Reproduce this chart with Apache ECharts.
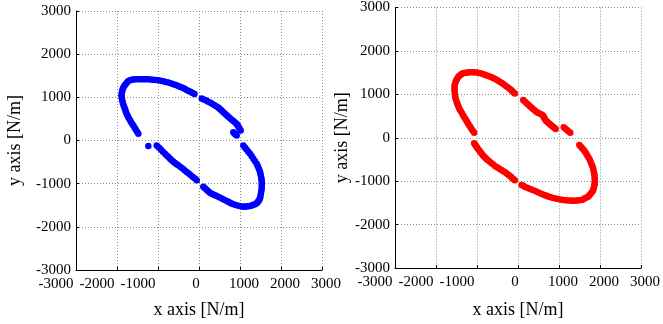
<!DOCTYPE html>
<html>
<head>
<meta charset="utf-8">
<script src="https://cdn.jsdelivr.net/npm/echarts@6/dist/echarts.min.js"></script>
<style>
  html, body { margin: 0; padding: 0; background: #fff; }
  #chart { width: 663px; height: 324px; }
</style>
</head>
<body>
<div id="chart"></div>
<script>
// axis range shared by both panels
var axisMin = -3000;
var axisMax = 3000;
var axisStep = 1000;
var xTitle = 'x axis [N/m]';
var yTitle = 'y axis [N/m]';

// left panel (blue), walking round the ellipse
var bluePoints = [
  [-1480, 154], [-1510, 200], [-1540, 250], [-1570, 295], [-1602, 345], [-1635, 392],
  [-1665, 440], [-1695, 490], [-1724, 537], [-1748, 585], [-1770, 632], [-1788, 680],
  [-1805, 729], [-1825, 778], [-1843, 825], [-1858, 872], [-1870, 920], [-1880, 960],
  [-1884, 1000], [-1887, 1040], [-1886, 1074], [-1880, 1112], [-1872, 1150], [-1860, 1190],
  [-1846, 1227], [-1820, 1268], [-1790, 1305], [-1758, 1345], [-1724, 1379], [-1680, 1395],
  [-1640, 1405], [-1600, 1412], [-1561, 1418], [-1500, 1420], [-1439, 1420], [-1390, 1420],
  [-1340, 1420], [-1290, 1420], [-1236, 1418], [-1175, 1413], [-1115, 1408], [-1055, 1402],
  [-993, 1395], [-930, 1383], [-870, 1370], [-810, 1356], [-749, 1342], [-690, 1324],
  [-627, 1305], [-565, 1285], [-505, 1264], [-450, 1242], [-400, 1220], [-350, 1196],
  [-300, 1172], [-250, 1148], [-200, 1125], [-155, 1102], [-110, 1080],
  [66, 975], [115, 952], [165, 930], [215, 906], [268, 882], [320, 854], [370, 825],
  [420, 796], [471, 767], [500, 738], [532, 710], [562, 682], [593, 653], [635, 620],
  [675, 585], [715, 550], [756, 515], [797, 483], [838, 450], [880, 417], [919, 384],
  [945, 345], [970, 305], [995, 268], [1017, 230],
  [837, 193], [858, 170], [880, 150], [900, 132], [919, 115],
  [1081, -115], [1120, -162], [1160, -210], [1202, -258], [1244, -306], [1285, -362],
  [1325, -420], [1366, -478], [1407, -536], [1430, -583], [1450, -630], [1470, -678],
  [1488, -727], [1500, -776], [1510, -825], [1520, -872], [1529, -920], [1531, -968],
  [1532, -1015], [1531, -1062], [1529, -1110], [1520, -1168], [1510, -1225], [1500, -1283],
  [1488, -1340], [1470, -1372], [1450, -1400], [1430, -1430], [1407, -1455], [1366, -1474],
  [1325, -1490], [1285, -1505], [1244, -1517], [1200, -1524], [1160, -1528], [1120, -1531],
  [1081, -1532], [1020, -1521], [960, -1510], [898, -1494], [837, -1478], [796, -1459],
  [756, -1440], [715, -1421], [675, -1402], [615, -1374], [555, -1345], [494, -1316],
  [432, -1287], [390, -1268], [350, -1250], [310, -1232], [268, -1210], [226, -1175],
  [185, -1140], [145, -1106], [105, -1072],
  [-1032, -115], [-980, -162], [-930, -210], [-880, -258], [-829, -306], [-787, -346],
  [-745, -385], [-705, -423], [-666, -460], [-625, -490], [-585, -520], [-545, -548],
  [-505, -575], [-452, -612], [-400, -650], [-350, -688], [-300, -727], [-250, -766],
  [-200, -805], [-150, -843], [-98, -881], [-56, -920],
  [-1236, -130]
];

// right panel (red)
var redPoints = [
  [-1069, 113], [-1098, 155], [-1128, 197], [-1158, 240], [-1188, 281], [-1218, 328],
  [-1247, 375], [-1276, 422], [-1306, 468], [-1335, 515], [-1365, 562], [-1395, 609],
  [-1425, 656], [-1445, 703], [-1465, 750], [-1485, 798], [-1504, 846], [-1518, 893],
  [-1530, 940], [-1538, 987], [-1544, 1034], [-1547, 1081], [-1548, 1128], [-1547, 1175],
  [-1544, 1222], [-1528, 1266], [-1510, 1310], [-1488, 1353], [-1463, 1396], [-1435, 1420],
  [-1405, 1445], [-1375, 1466], [-1344, 1486], [-1305, 1494], [-1265, 1500], [-1226, 1505],
  [-1188, 1509], [-1140, 1509], [-1090, 1508], [-1040, 1505], [-988, 1502], [-940, 1490],
  [-890, 1477], [-840, 1462], [-791, 1448], [-742, 1430], [-692, 1412], [-643, 1393],
  [-594, 1373], [-544, 1346], [-494, 1318], [-444, 1290], [-394, 1260], [-344, 1226],
  [-295, 1192], [-246, 1158], [-197, 1124], [-168, 1097], [-138, 1070], [-108, 1044],
  [-78, 1018],
  [127, 869], [166, 834], [205, 800], [245, 766], [285, 733], [325, 699], [365, 665],
  [405, 631], [444, 597], [485, 578], [525, 560], [565, 540], [603, 520], [622, 490],
  [640, 460], [660, 427], [682, 394], [711, 369], [740, 344], [770, 319], [800, 294],
  [830, 272], [860, 250], [890, 227], [919, 204],
  [1116, 242], [1156, 210], [1196, 178], [1236, 145], [1276, 113],
  [1496, -165], [1530, -202], [1565, -240], [1598, -278], [1632, -317], [1661, -363],
  [1690, -410], [1720, -457], [1751, -505], [1770, -552], [1790, -600], [1810, -646],
  [1829, -692], [1840, -740], [1850, -787], [1860, -835], [1869, -882], [1871, -929],
  [1872, -976], [1871, -1023], [1869, -1070], [1860, -1108], [1850, -1146], [1840, -1184],
  [1829, -1222], [1800, -1256], [1770, -1290], [1740, -1324], [1710, -1357], [1670, -1376],
  [1630, -1395], [1592, -1414], [1553, -1432], [1494, -1440], [1435, -1448], [1395, -1449],
  [1355, -1450], [1316, -1449], [1276, -1448], [1216, -1443], [1157, -1437], [1098, -1431],
  [1038, -1425], [980, -1412], [920, -1398], [860, -1385], [800, -1371], [760, -1358],
  [720, -1345], [680, -1332], [641, -1319], [582, -1295], [522, -1270], [463, -1246],
  [404, -1222], [342, -1198], [280, -1175], [223, -1153], [166, -1131], [127, -1108],
  [88, -1086],
  [-1069, -127], [-1048, -156], [-1028, -184], [-1008, -212], [-988, -240], [-958, -278],
  [-928, -315], [-898, -353], [-869, -391], [-840, -420], [-810, -448], [-780, -476],
  [-751, -505], [-701, -543], [-652, -580], [-602, -618], [-553, -656], [-504, -684],
  [-455, -712], [-405, -740], [-356, -769], [-316, -797], [-276, -825], [-236, -853],
  [-197, -882], [-168, -906], [-138, -930], [-108, -955], [-78, -980]
];

var serif = 'Liberation Serif, Times New Roman, serif';

function xAxisFor(idx, gap) {
  return {
    type: 'value', gridIndex: idx, min: axisMin, max: axisMax, interval: axisStep,
    name: xTitle, nameLocation: 'middle', nameGap: gap,
    nameTextStyle: { fontFamily: serif, fontSize: 18, color: '#000' },
    axisLine: { show: true, onZero: false, lineStyle: { color: '#000', width: 1 } },
    axisTick: { show: true, inside: true, length: 3, lineStyle: { color: '#000' } },
    axisLabel: {
      margin: 7, color: '#000', fontFamily: serif, fontSize: 15,
      formatter: function (v) {
        if (v < 0) return '{n|' + v + '}';
        if (v > 0) return '{p|' + v + '}';
        return '{z|0}';
      },
      rich: {
        n: { fontFamily: serif, fontSize: 15, color: '#000', padding: [0, 40, 0, 0] },
        z: { fontFamily: serif, fontSize: 15, color: '#000', padding: [0, 6, 0, 0] },
        p: { fontFamily: serif, fontSize: 15, color: '#000', padding: [0, 0, 0, 8] }
      }
    },
    splitLine: { show: true, lineStyle: { color: '#8c8c8c', type: [1, 2], width: 1 } }
  };
}

function yAxisFor(idx, gap) {
  return {
    type: 'value', gridIndex: idx, min: axisMin, max: axisMax, interval: axisStep,
    name: yTitle, nameLocation: 'middle', nameGap: gap, nameRotate: 90,
    nameTextStyle: { fontFamily: serif, fontSize: 18, color: '#000' },
    axisLine: { show: true, onZero: false, lineStyle: { color: '#000', width: 1 } },
    axisTick: { show: true, inside: true, length: 3, lineStyle: { color: '#000' } },
    axisLabel: {
      margin: 5, color: '#000', fontFamily: serif, fontSize: 15,
      formatter: function (v) { return String(v); }
    },
    splitLine: { show: true, lineStyle: { color: '#8c8c8c', type: [1, 2], width: 1 } }
  };
}

var chart = echarts.init(document.getElementById('chart'), null, { renderer: 'canvas' });
chart.setOption({
  animation: false,
  backgroundColor: '#fff',
  grid: [
    { left: 76, top: 11, width: 246, height: 261 },
    { left: 395, top: 5, width: 253, height: 265 }
  ],
  xAxis: [xAxisFor(0, 31), xAxisFor(1, 33)],
  yAxis: [yAxisFor(0, 52), yAxisFor(1, 44)],
  series: [
    {
      type: 'scatter', xAxisIndex: 0, yAxisIndex: 0, data: bluePoints,
      symbol: 'circle', symbolSize: 6.5, itemStyle: { color: '#0000ff', opacity: 1 }
    },
    {
      type: 'scatter', xAxisIndex: 1, yAxisIndex: 1, data: redPoints,
      symbol: 'circle', symbolSize: 6.5, itemStyle: { color: '#ff0000', opacity: 1 }
    }
  ]
});
</script>
</body>
</html>
